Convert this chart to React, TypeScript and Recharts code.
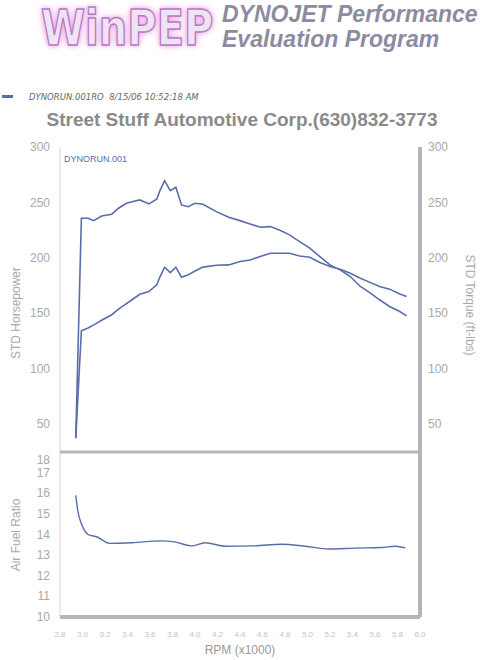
import React from 'react';
import {
    LineChart,
    Line,
    XAxis,
    YAxis,
    ReferenceLine
} from 'recharts';

// RPM (x1000) sample points
const rpm = [
    2.94, 2.99, 3.05, 3.10, 3.17, 3.26, 3.32, 3.39, 3.44, 3.51,
    3.59, 3.66, 3.69, 3.73, 3.78, 3.83, 3.88, 3.94, 4.00, 4.07,
    4.19, 4.30, 4.40, 4.49, 4.58, 4.67, 4.76, 4.84, 4.93, 5.02,
    5.11, 5.20, 5.29, 5.38, 5.47, 5.56, 5.64, 5.73, 5.82, 5.88
];

const horsepower = [
    37, 134, 136.5, 139.3, 143.5, 148.5, 153.5, 158.5, 162, 167,
    169.4, 175.5, 183, 191.4, 186.6, 191.4, 182.4, 184.5, 188, 191.5,
    193.2, 193.5, 196.5, 198, 201, 204, 204, 204, 201.6, 200.4,
    195.6, 192, 189.6, 186, 181.5, 177.5, 174, 171.6, 167.3, 165
];

const torque = [
    37, 235.6, 235.6, 233.5, 237.7, 239.3, 244.7, 249.2, 250.5, 252.2,
    248.6, 252.8, 261, 269.6, 260.6, 263.6, 247.7, 246.1, 249.2, 248.3,
    241.6, 236.5, 233.5, 230.5, 227.5, 228.1, 224.5, 220.6, 214.5, 208.6,
    201, 193.5, 189, 183, 174, 168, 162, 155.9, 151.4, 147.5
];

const afrRpm = [
    2.94, 2.957, 2.99, 3.05, 3.13, 3.24, 3.44, 3.70, 3.82, 3.97,
    4.09, 4.27, 4.53, 4.77, 4.98, 5.19, 5.42, 5.66, 5.78, 5.87
];

const afr = [
    15.9, 15.18, 14.53, 14.0, 13.88, 13.57, 13.6, 13.69, 13.64, 13.45,
    13.6, 13.43, 13.45, 13.53, 13.43, 13.3, 13.34, 13.37, 13.43, 13.35
];

const xTicks = [2.8, 3.0, 3.2, 3.4, 3.6, 3.8, 4.0, 4.2, 4.4, 4.6, 4.8, 5.0, 5.2, 5.4, 5.6, 5.8, 6.0];
const powerTicks = [50, 100, 150, 200, 250, 300];
const afrTicks = [10, 11, 12, 13, 14, 15, 16, 17, 18];

const powerData = rpm.map((r, i) => ({ rpm: r, hp: horsepower[i], tq: torque[i] }));
const afrData = afrRpm.map((r, i) => ({ rpm: r, afr: afr[i] }));

const LINE = '#5a6da8';
const FRAME = '#b4b4bc';
const TICK = '#a9a9a9';
const FONT = '"Liberation Sans", Arial, sans-serif';

const AfrTick = (props: any) => {
    const { x, y, payload } = props;
    // the top label is pushed down inside the panel, like on the printout
    const dy = payload.value === 18 ? 12 : 4;
    return (
        <text x={x} y={y + dy} textAnchor="end" fill={TICK} fontSize={12} fontFamily={FONT}>
            {payload.value}
        </text>
    );
};

const rotated = (left: number, top: number, angle: number): React.CSSProperties => ({
    position: 'absolute',
    left,
    top,
    transform: `translate(-50%, -50%) rotate(${angle}deg)`,
    whiteSpace: 'nowrap',
    fontFamily: FONT,
    fontSize: 12,
    color: TICK
});

export default function App() {
    return (
        <div style={{ position: 'relative', width: 480, height: 660, background: '#fff', overflow: 'hidden' }}>
            <style>{`body{margin:0}`}</style>

            {/* header */}
            <div
                style={{
                    position: 'absolute',
                    left: 41,
                    top: 3,
                    fontFamily: '"DejaVu Sans", sans-serif',
                    fontWeight: 900,
                    fontSize: 50,
                    lineHeight: '50px',
                    transform: 'scaleX(0.8)',
                    transformOrigin: 'left top',
                    color: '#efe4f4',
                    WebkitTextStroke: '1.5px #b878c8',
                    textShadow: '0 0 6px #e49ad8, 0 0 10px #f0b8e8'
                }}
            >
                WinPEP
            </div>
            <div
                style={{
                    position: 'absolute',
                    left: 222,
                    top: 2,
                    fontFamily: FONT,
                    fontWeight: 'bold',
                    fontStyle: 'italic',
                    fontSize: 23,
                    lineHeight: '25px',
                    color: '#8c8ca0'
                }}
            >
                DYNOJET Performance
                <br />
                Evaluation Program
            </div>

            {/* legend */}
            <div style={{ position: 'absolute', left: 2, top: 95, width: 11, height: 3, background: LINE }} />
            <div
                style={{
                    position: 'absolute',
                    left: 29,
                    top: 92,
                    fontFamily: '"DejaVu Sans", sans-serif',
                    fontStyle: 'italic',
                    fontSize: 8.5,
                    color: '#666',
                    whiteSpace: 'pre'
                }}
            >
                {'DYNORUN.001RO  8/15/06 10:52:18 AM'}
            </div>

            {/* title */}
            <div
                style={{
                    position: 'absolute',
                    left: 0,
                    width: 484,
                    top: 109,
                    textAlign: 'center',
                    fontFamily: FONT,
                    fontWeight: 'bold',
                    fontSize: 19,
                    color: '#8a8a8a'
                }}
            >
                Street Stuff Automotive Corp.(630)832-3773
            </div>

            {/* power / torque panel */}
            <div style={{ position: 'absolute', left: 0, top: 0 }}>
                <LineChart width={480} height={460} data={powerData} margin={{ top: 147, right: 10, bottom: 8, left: 15 }}>
                    <XAxis dataKey="rpm" type="number" domain={[2.8, 6.0]} hide />
                    <YAxis
                        yAxisId="hp"
                        orientation="left"
                        width={45}
                        domain={[24.5, 300]}
                        ticks={powerTicks}
                        axisLine={{ stroke: '#d4d4d8', strokeWidth: 1 }}
                        tickLine={false}
                        tickMargin={4}
                        tick={{ fill: TICK, fontSize: 12, fontFamily: FONT }}
                    />
                    <YAxis
                        yAxisId="tq"
                        orientation="right"
                        width={50}
                        domain={[24.5, 300]}
                        ticks={powerTicks}
                        axisLine={{ stroke: FRAME, strokeWidth: 4 }}
                        tickLine={false}
                        tickMargin={2}
                        tick={{ fill: TICK, fontSize: 12, fontFamily: FONT }}
                    />
                    <Line yAxisId="hp" type="linear" dataKey="hp" stroke={LINE} strokeWidth={1.6} dot={false} isAnimationActive={false} />
                    <Line yAxisId="tq" type="linear" dataKey="tq" stroke={LINE} strokeWidth={1.6} dot={false} isAnimationActive={false} />
                </LineChart>
            </div>

            {/* air fuel ratio panel */}
            <div style={{ position: 'absolute', left: 0, top: 0 }}>
                <LineChart width={480} height={660} data={afrData} margin={{ top: 452, right: 10, bottom: 0, left: 15 }}>
                    <XAxis
                        dataKey="rpm"
                        type="number"
                        domain={[2.8, 6.0]}
                        ticks={xTicks}
                        height={43}
                        interval={0}
                        tickFormatter={(v: number) => v.toFixed(1)}
                        axisLine={{ stroke: FRAME, strokeWidth: 4 }}
                        tickLine={false}
                        tickMargin={8}
                        tick={{ fill: '#c4c4c4', fontSize: 8, fontFamily: FONT }}
                    />
                    <YAxis
                        yAxisId="afr"
                        orientation="left"
                        width={45}
                        domain={[10, 18]}
                        ticks={afrTicks}
                        interval={0}
                        axisLine={{ stroke: '#d4d4d8', strokeWidth: 1 }}
                        tickLine={false}
                        tickMargin={4}
                        tick={<AfrTick />}
                    />
                    <YAxis
                        yAxisId="frame"
                        orientation="right"
                        width={50}
                        domain={[10, 18]}
                        tick={false}
                        tickLine={false}
                        axisLine={{ stroke: FRAME, strokeWidth: 4 }}
                    />
                    <ReferenceLine yAxisId="afr" y={18} stroke={FRAME} strokeWidth={3} ifOverflow="visible" />
                    <Line yAxisId="afr" type="monotone" dataKey="afr" stroke={LINE} strokeWidth={1.4} dot={false} isAnimationActive={false} />
                </LineChart>
            </div>

            {/* overlays */}
            <div style={{ position: 'absolute', left: 64, top: 154, fontFamily: FONT, fontSize: 9, color: '#5a6da8' }}>
                DYNORUN.001
            </div>
            <div style={rotated(16, 313, -90)}>STD Horsepower</div>
            <div style={rotated(470, 305, 90)}>STD Torque (ft-lbs)</div>
            <div style={rotated(16, 535, -90)}>Air Fuel Ratio</div>
            <div
                style={{
                    position: 'absolute',
                    left: 0,
                    width: 480,
                    top: 643,
                    textAlign: 'center',
                    fontFamily: FONT,
                    fontSize: 12,
                    color: '#999'
                }}
            >
                RPM (x1000)
            </div>
        </div>
    );
}
